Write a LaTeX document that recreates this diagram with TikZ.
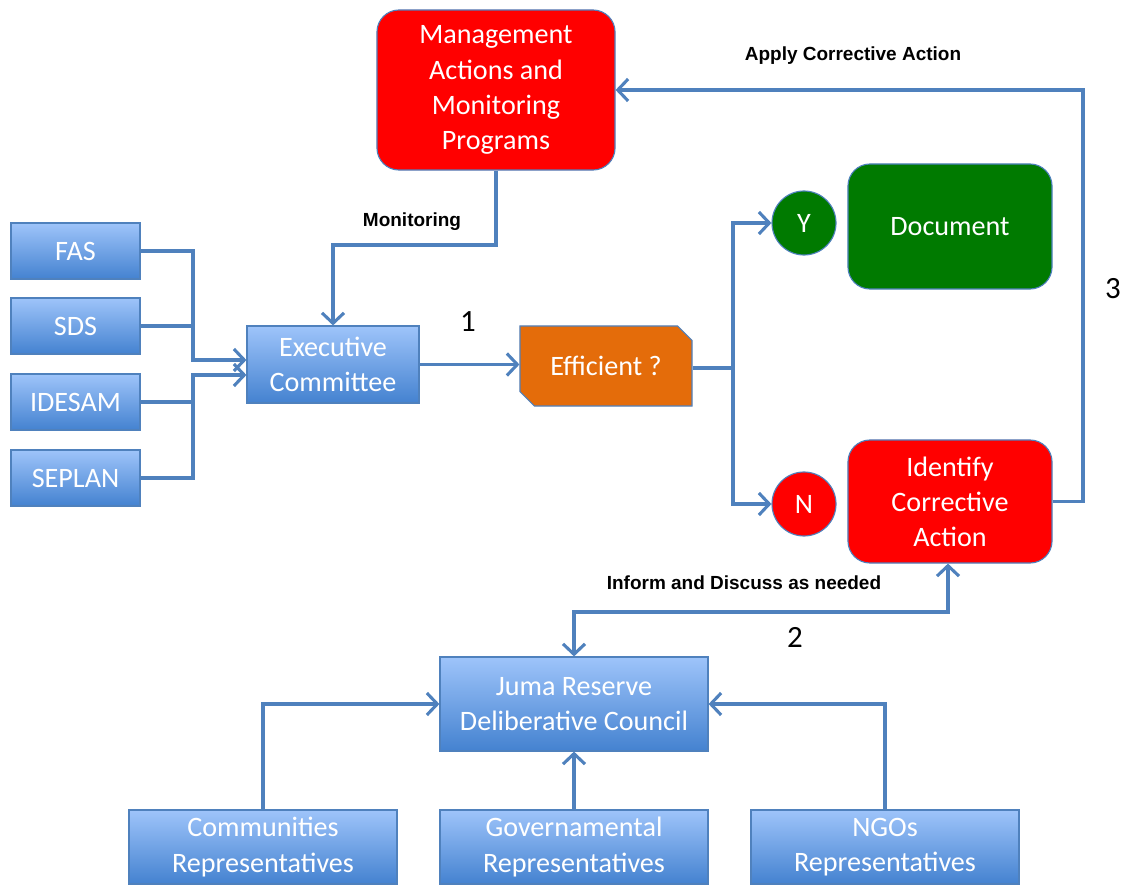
\documentclass[tikz,border=0pt]{standalone}
\usepackage{fontspec}
\setmainfont{Carlito}
\newfontfamily\labelfont{Liberation Sans}
\usetikzlibrary{arrows.meta,shapes.misc}

\definecolor{linkblue}{RGB}{79,129,189}
\definecolor{boxtop}{RGB}{158,196,250}
\definecolor{boxbottom}{RGB}{68,130,208}
\definecolor{boxred}{RGB}{255,0,0}
\definecolor{boxgreen}{RGB}{0,122,0}
\definecolor{boxorange}{RGB}{228,108,10}

\begin{document}
\begin{tikzpicture}[x=0.025cm, y=-0.025cm]

\tikzstyle{boxtext}=[text=white, font=\fontsize{20}{25}\selectfont, align=center, inner sep=0pt]
\tikzstyle{bluebox}=[boxtext, rectangle, draw=linkblue, line width=0.8pt, top color=boxtop, bottom color=boxbottom]
\tikzstyle{redbox}=[boxtext, rectangle, rounded corners=0.55cm, draw=linkblue, line width=0.8pt, fill=boxred]
\tikzstyle{greenbox}=[boxtext, rectangle, rounded corners=0.55cm, draw=linkblue, line width=0.8pt, fill=boxgreen]
\tikzstyle{answer}=[boxtext, circle, draw=linkblue, line width=0.8pt, minimum size=1.6cm]
\tikzstyle{decision}=[boxtext, chamfered rectangle, chamfered rectangle corners={north east, south west}, chamfered rectangle xsep=0.18cm, chamfered rectangle ysep=0.18cm, draw=linkblue, line width=0.8pt, fill=boxorange]
\tikzstyle{note}=[font=\labelfont\bfseries\fontsize{13.5}{16}\selectfont, inner sep=0pt]
\tikzstyle{stepnum}=[font=\fontsize{22}{26}\selectfont, inner sep=0pt]
\tikzstyle{edge0}=[draw=linkblue, line width=2.2pt]
\tikzstyle{edge1}=[edge0, -{Straight Barb[length=2.6mm, width=5.5mm]}]
\tikzstyle{edge2}=[edge0, {Straight Barb[length=2.6mm, width=5.5mm]}-{Straight Barb[length=2.6mm, width=5.5mm]}]

\useasboundingbox (0,0) rectangle (1125,886);

% sources
\node[bluebox, minimum width=3.225cm, minimum height=1.4cm] (fas) at (75.5,251) {FAS};
\node[bluebox, minimum width=3.225cm, minimum height=1.4cm] (sds) at (75.5,326) {SDS};
\node[bluebox, minimum width=3.225cm, minimum height=1.4cm] (idesam) at (75.5,402) {IDESAM};
\node[bluebox, minimum width=3.225cm, minimum height=1.4cm] (seplan) at (75.5,478) {SEPLAN};

\node[bluebox, minimum width=4.3cm, minimum height=1.925cm] (exec) at (333,364.5) {Executive\\Committee};
\node[redbox, minimum width=5.95cm, minimum height=4cm] (mgmt) at (496,90) {Management\\Actions and\\Monitoring\\Programs};
\node[decision, minimum width=4.3cm, minimum height=2cm] (eff) at (606,366) {Efficient ?};

\node[answer, fill=boxgreen] (yes) at (804,223) {Y};
\node[answer, fill=boxred] (no) at (804,504) {N};
\node[greenbox, minimum width=5.1cm, minimum height=3.125cm] (doc) at (950,226.5) {Document};
\node[redbox, minimum width=5.1cm, minimum height=3.075cm] (ident) at (950,501.5) {Identify\\Corrective\\Action};

% council
\node[bluebox, minimum width=6.7cm, minimum height=2.35cm] (juma) at (574,704) {Juma Reserve\\Deliberative Council};
\node[bluebox, minimum width=6.7cm, minimum height=1.85cm] (comm) at (263,847) {Communities\\Representatives};
\node[bluebox, minimum width=6.7cm, minimum height=1.85cm] (gov) at (574,847) {Governamental\\Representatives};
\node[bluebox, minimum width=6.7cm, minimum height=1.85cm] (ngo) at (885,847) {NGOs\\Representatives};

% labels
\node[note] (monlabel) at (412,222) {Monitoring};
\node[note] (applylabel) at (853,56) {Apply Corrective Action};
\node[note] (informlabel) at (744,583) {Inform and Discuss as needed};
\node[stepnum] (one) at (468,322) {1};
\node[stepnum] (two) at (795,637) {2};
\node[stepnum] (three) at (1113,289) {3};

\coordinate (jtop) at (193,360);
\coordinate (jbot) at (193,375);
\coordinate (mon) at (333,245);
\coordinate (split) at (733,368);
\coordinate (back) at (1083,90);
\coordinate (inform) at (948,612);

\draw[edge0] (sds.east) -- (sds.east -| jtop);
\draw[edge1] (fas.east) -| (jtop) -- (jtop -| exec.west);
\draw[edge0] (idesam.east) -- (idesam.east -| jbot);
\draw[edge1] (seplan.east) -| (jbot) -- (jbot -| exec.west);

\draw[edge1] (mgmt.south) |- (mon) -- (exec.north);
\draw[edge1] (exec.east) -- (exec.east -| eff.west);
\draw[edge0] (eff.east |- split) -- (split);
\draw[edge1] (split) |- (yes.west);
\draw[edge1] (split) |- (no.west);
\draw[edge1] (ident.east) -| (back) -- (mgmt.east);
\draw[edge2] (juma.north) |- (inform) -- (inform |- ident.south);

\draw[edge1] (comm.north) |- (juma.west);
\draw[edge1] (gov.north) -- (juma.south);
\draw[edge1] (ngo.north) |- (juma.east);

\end{tikzpicture}
\end{document}
